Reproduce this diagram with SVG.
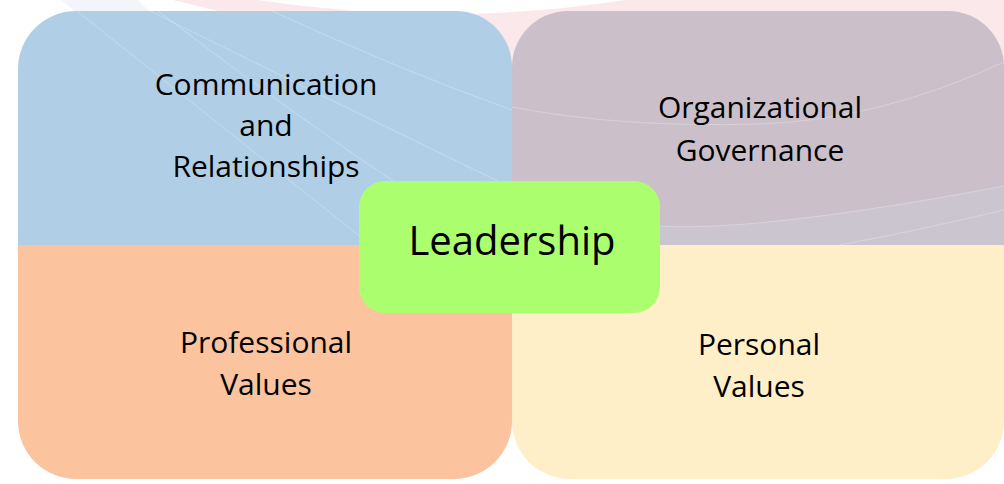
<svg xmlns="http://www.w3.org/2000/svg" width="1004" height="484" viewBox="0 0 1004 484">
  <style>
    .label { font-family: "Open Sans", "Noto Sans", "DejaVu Sans", sans-serif; font-size: 30px; fill: #000; text-anchor: middle; }
    .center-label { font-family: "Open Sans", "Noto Sans", "DejaVu Sans", sans-serif; font-size: 40px; fill: #000; text-anchor: middle; }
    .streak { fill: none; stroke: #ffffff; stroke-width: 1; stroke-opacity: 0.25; }
  </style>

  <!-- backdrop -->
  <rect x="0" y="0" width="1004" height="484" fill="#ffffff"/>
  <g id="backdrop">
    <path d="M61,0 H138 L152,14 H78 Z" fill="#f4f5fa"/>
    <path d="M173,0 H1004 V80 H520 L230,14 Z" fill="#fbe8ea"/>
    <path d="M257,0 Q445,28 625,0 Z" fill="#ffffff"/>
  </g>

  <!-- quadrant: communication and relationships -->
  <g id="communication">
    <path d="M18,245 V69 A58,58 0 0 1 76,11 H456 A56,56 0 0 1 512,67 V245 Z" fill="#b0cfe6"/>
    <path class="streak" d="M77,11 L362,238"/>
    <path class="streak" d="M150,11 Q330,100 512,188"/>
    <path class="streak" d="M158,11 Q300,120 430,206"/>
    <path class="streak" d="M272,11 Q400,70 512,110"/>
    <text class="label" x="266" y="95">Communication</text>
    <text class="label" x="266" y="136">and</text>
    <text class="label" x="266" y="177">Relationships</text>
  </g>

  <!-- quadrant: organizational governance -->
  <g id="governance">
    <path d="M512,245 V67 A56,56 0 0 1 568,11 H948 A56,56 0 0 1 1004,67 V245 Z" fill="#cbc0c9"/>
    <path d="M660,245 V226 Q760,232 1004,186 V245 Z" fill="#cbc7d3" fill-opacity="0.7"/>
    <path class="streak" d="M512,107 Q620,128 760,124 Q880,120 1004,62"/>
    <path class="streak" d="M660,226 Q760,232 1004,186"/>
    <path class="streak" d="M840,245 Q920,230 1004,210"/>
    <text class="label" x="760" y="118">Organizational</text>
    <text class="label" x="760" y="161">Governance</text>
  </g>

  <!-- quadrant: professional values -->
  <g id="professional">
    <path d="M18,245 H512 V421 A58,58 0 0 1 454,479 H76 A58,58 0 0 1 18,421 Z" fill="#fbc49e"/>
    <text class="label" x="266" y="353">Professional</text>
    <text class="label" x="266" y="395">Values</text>
  </g>

  <!-- quadrant: personal values -->
  <g id="personal">
    <path d="M512,245 H1004 V421 A58,58 0 0 1 946,479 H570 A58,58 0 0 1 512,421 Z" fill="#feefc8"/>
    <text class="label" x="759" y="355">Personal</text>
    <text class="label" x="759" y="397">Values</text>
  </g>

  <!-- central node -->
  <g id="leadership">
    <rect x="359" y="181" width="301" height="132" rx="26" ry="26" fill="#abff6f"/>
    <text class="center-label" x="512" y="255">Leadership</text>
  </g>

  <!-- no connectors in this figure -->
  <g id="connectors"/>
</svg>
